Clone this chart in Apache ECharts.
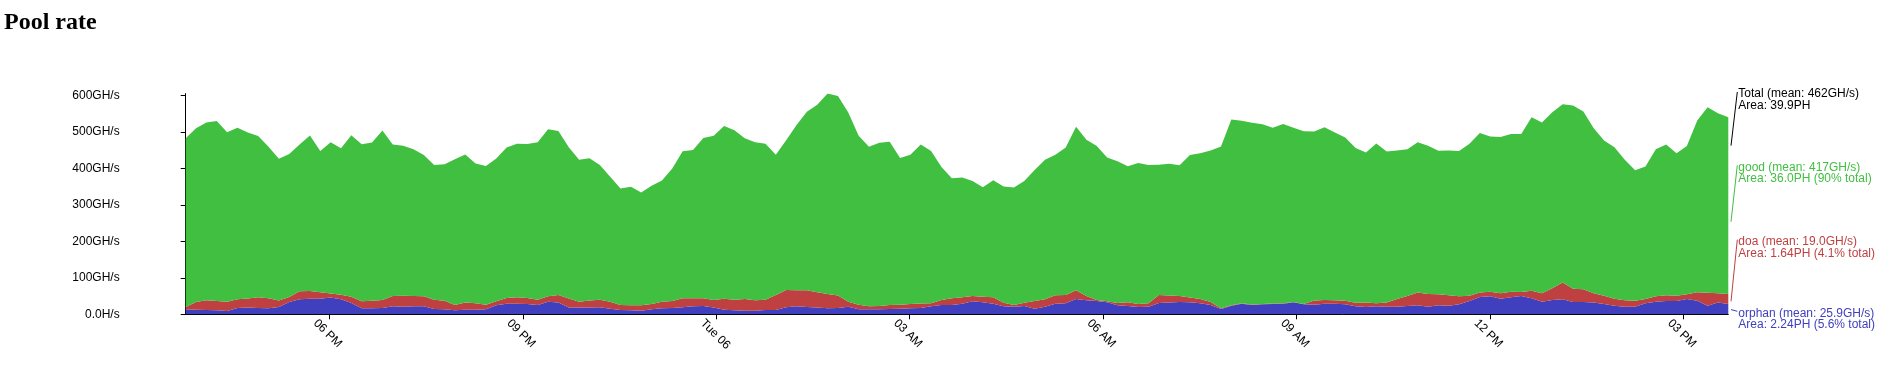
<!DOCTYPE html>
<html><head><meta charset="utf-8">
<script src="https://cdn.jsdelivr.net/npm/echarts@6/dist/echarts.min.js"></script>
<style>html,body{margin:0;padding:0;background:#fff;}#c{width:1880px;height:366px;}</style>
</head><body><div id="c"></div>
<script>
// ---- data (GH/s), 150 evenly spaced samples over the last day ----
const orphan = [13.7,12.8,11.9,11,9.1,17.4,18.3,17.4,16.4,20.1,33.8,41.1,42.9,42.9,45.7,41.1,31,16.4,16.4,17.4,21.9,21,21.9,21.9,14.6,13.7,11,12.8,12.8,13.7,24.7,29.2,29.2,28.3,25.6,34.7,32,18.3,18.3,
  18.3,19.2,15.5,11.9,11,10,13.7,16.4,17.4,19.2,21.9,22.8,18.3,12.8,11,10,10,11.9,11.9,19.2,21.9,20.1,18.3,16.4,17.4,21,13.7,13.7,13.7,14.6,15.5,16.4,17.4,21.9,25.6,25.6,29.2,
  35.6,32.9,29.2,21.9,21,22.8,15.5,21,29.2,30.1,42,38.4,36.5,32.9,24.7,22.8,20.1,21,31,32,33.8,32.9,30.1,25.6,14.6,23.7,29.2,25.6,27.4,28.3,29.2,32.9,27.4,26.5,29.2,29.2,27.4,21.9,
  20.1,21.9,21,21,22.8,24.7,21,24.7,23.7,27.4,36.5,47.5,49.3,42.9,46.6,50.2,43.8,34.7,39.3,41.1,33.8,33.8,32,28.3,23.7,21,21,30.1,34.7,36.5,36.5,42,37.4,23.7,32,28.3];
const doa = [6.4,21,26.5,25.6,25.6,23.7,24.7,29.2,27.4,17.4,13.7,21.9,21,17.4,11,12.8,17.4,19.2,21,21.9,28.3,30.1,28.3,27.4,25.6,23.7,14.6,19.2,17.4,12.8,11,15.5,17.4,16.4,14.6,14.6,21,24.7,16.4,
  19.2,21,19.2,13.7,13.7,14.6,14.6,18.3,19.2,24.7,21.9,21,21,30.1,29.2,32,28.3,28.3,41.1,47.5,43.8,45.7,42,39.3,33.8,13.7,12.8,8.2,9.1,11,11,11.9,11.9,8.2,13.7,18.3,17.4,
  14.6,15.5,17.4,10,4.6,9.1,21,20.1,22.8,22.8,23.7,11.9,2.7,2.7,6.4,10,8.2,9.1,21.9,19.2,16.4,12.8,11.9,8.2,1.8,1,1,1,1,1,1,1,1,11,10,9.1,10,10,
  11.9,8.2,11,21,27.4,34.7,34.7,30.1,28.3,21.9,14.6,11.9,12.8,14.6,15.5,11,21,22.8,32,45.7,36.5,34.7,25.6,22.8,19.2,17.4,16.4,11.9,14.6,15.5,14.6,12.8,22.8,35.6,25.6,27.4];
const good = [462,476,487,493,464,470,455,442,415,389,392,402,426,387,415,401,442,430,433,464,415,411,402,387,369,374,399,406,383,380,391,412,421,422,431,458,449,415,389,
  390,369,342,319,325,309,324,332,363,403,406,439,450,473,464,440,433,427,384,410,453,489,514,549,547,518,463,437,447,447,402,409,436,417,364,329,328,
  315,300,321,318,322,333,359,382,385,404,448,428,422,394,388,373,386,379,357,361,358,391,399,415,443,509,500,498,492,482,491,477,473,463,473,460,447,424,
  411,438,414,407,402,412,406,393,397,398,416,437,425,428,432,433,475,468,482,489,502,487,452,425,415,385,357,363,403,413,390,406,471,508,493,484];

const startTime = Date.UTC(2013, 7, 5, 15, 46, 24);   // Mon 05, 15:46
const spanMs = 299 * 288 * 1000;                       // one day of 288 s bins
const tickTimes = [Date.UTC(2013,7,5,18), Date.UTC(2013,7,5,21), Date.UTC(2013,7,6,0), Date.UTC(2013,7,6,3),
                   Date.UTC(2013,7,6,6), Date.UTC(2013,7,6,9), Date.UTC(2013,7,6,12), Date.UTC(2013,7,6,15)];
const tickLabels = ['06 PM', '09 PM', 'Tue 06', '03 AM', '06 AM', '09 AM', '12 PM', '03 PM'];
const yTicks = [0, 100, 200, 300, 400, 500, 600];
const yTickLabels = ['0.0H/s', '100GH/s', '200GH/s', '300GH/s', '400GH/s', '500GH/s', '600GH/s'];

const seriesNames = ['orphan', 'doa', 'good'];
const seriesColors = ['#4040bf', '#bf4040', '#40bf40'];
const legendNames = ['Total', 'good', 'doa', 'orphan'];
const legendMeans = [462, 417, 19.0, 25.9];
const legendLine1 = ['Total (mean: 462GH/s)', 'good (mean: 417GH/s)', 'doa (mean: 19.0GH/s)', 'orphan (mean: 25.9GH/s)'];
const legendLine2 = ['Area: 39.9PH', 'Area: 36.0PH (90% total)', 'Area: 1.64PH (4.1% total)', 'Area: 2.24PH (5.6% total)'];
const legendColors = ['#000000', '#40bf40', '#bf4040', '#4040bf'];

// ---- layout ----
const FONT = '"Liberation Sans", Arial, sans-serif';
const gridLeft = 185.7, gridRight = 151.7, gridBottom = 51.7;
const axisY = 366 - gridBottom;
const pxPerUnit = 0.365;
const n = good.length;
const times = good.map((_, i) => startTime + i * spanMs / (n - 1));
let yMax = 0;
for (let i = 0; i < n; i++) yMax = Math.max(yMax, good[i] + doa[i] + orphan[i]);
const gridTop = axisY - yMax * pxPerUnit;
const plotW = 1880 - gridLeft - gridRight;
const labelShiftMs = 14 * spanMs / plotW;
const labelTimes = tickTimes.map(t => t - labelShiftMs);

// value first, time second, so that the stack is computed on the value dimension
const dataOf = arr => times.map((t, i) => [arr[i], t]);
const chart = echarts.init(document.getElementById('c'), null, {renderer: 'canvas'});
const option = {
  animation: false,
  backgroundColor: '#fff',
  title: {text: 'Pool rate', left: 4, top: 11, padding: 0,
    textStyle: {fontFamily: '"Liberation Serif", "Times New Roman", serif', fontSize: 24, fontWeight: 'bold', color: '#000'}},
  grid: {left: gridLeft, right: gridRight, bottom: gridBottom, top: gridTop, containLabel: false},
  xAxis: {
    type: 'value', min: startTime, max: startTime + spanMs,
    axisLine: {show: true, lineStyle: {color: '#000', width: 1}},
    axisTick: {show: true, customValues: tickTimes, length: 5, lineStyle: {color: '#000'}},
    axisLabel: {customValues: labelTimes, rotate: -45, margin: 7, color: '#000', fontFamily: FONT, fontSize: 12,
      formatter: v => {
        let best = 0, bd = Infinity;
        labelTimes.forEach((t, i) => { const d = Math.abs(t - v); if (d < bd) { bd = d; best = i; } });
        return tickLabels[best];
      }},
    splitLine: {show: false}
  },
  yAxis: {
    type: 'value', min: 0, max: yMax,
    axisLine: {show: true, lineStyle: {color: '#000', width: 1}},
    axisTick: {show: true, customValues: yTicks, length: 5, lineStyle: {color: '#000'}},
    axisLabel: {customValues: yTicks, margin: 66, color: '#000', fontFamily: FONT, fontSize: 12,
      formatter: v => yTickLabels[yTicks.indexOf(Math.round(v))] || ''},
    splitLine: {show: false}
  },
  series: [orphan, doa, good].map((arr, k) => ({
    name: seriesNames[k], type: 'line', stack: 'rate', symbol: 'none', showSymbol: false,
    encode: {x: 1, y: 0},
    lineStyle: {width: 0}, itemStyle: {color: seriesColors[k]},
    areaStyle: {color: seriesColors[k], opacity: 1},
    data: dataOf(arr)
  }))
};
chart.setOption(option);

// ---- right-side annotations (leader line from the mean level to the text) ----
const endT = startTime + spanMs;
const stackLevels = [legendMeans[0],
  legendMeans[3] + legendMeans[2] + legendMeans[1] / 2,
  legendMeans[3] + legendMeans[2] / 2,
  legendMeans[3] / 2];
const labelCenters = [94, 167.3, 241.7, 313.3];
const textX = 1738.3;
const graphics = [];
legendNames.forEach((nm, k) => {
  const p = chart.convertToPixel({gridIndex: 0}, [endT, stackLevels[k]]);
  graphics.push({type: 'line', silent: true,
    shape: {x1: p[0] + 2.7, y1: p[1], x2: textX - 1, y2: labelCenters[k] - 2},
    style: {stroke: legendColors[k], lineWidth: 1}});
  graphics.push({type: 'text', silent: true, x: textX, y: labelCenters[k] - 5.75,
    style: {text: legendLine1[k] + '\n' + legendLine2[k], fill: legendColors[k],
      font: '12px ' + FONT, lineHeight: 11.5, verticalAlign: 'top', align: 'left'}});
});
chart.setOption({graphic: graphics});
</script>
</body></html>
